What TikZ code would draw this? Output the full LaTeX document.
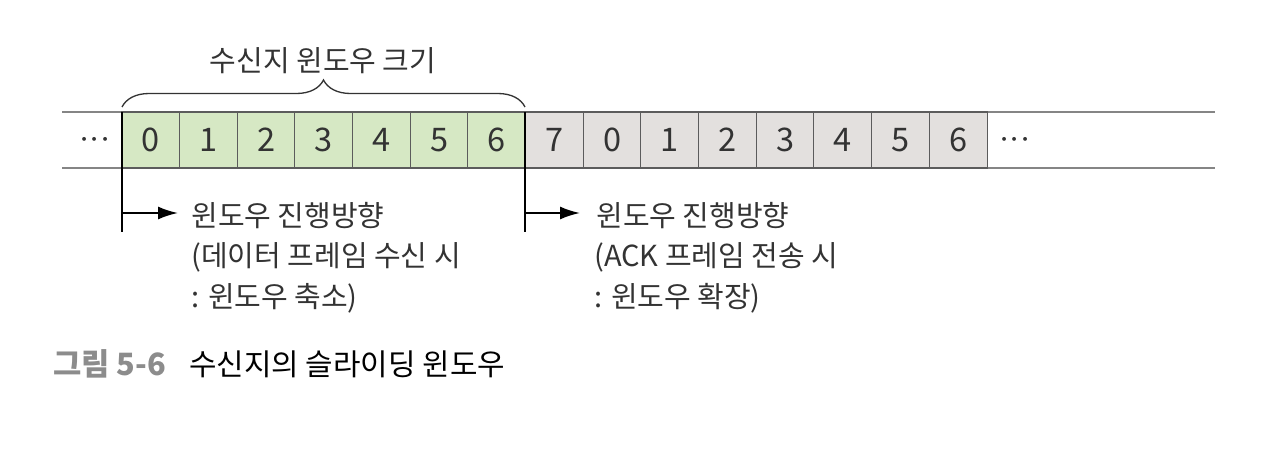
\documentclass[tikz,border=0pt]{standalone}
\usepackage{fontspec}
\usepackage{tikz}
\usetikzlibrary{arrows.meta}
\usetikzlibrary{decorations.pathreplacing}
\pgfdeclarelayer{edgelayer}
\pgfdeclarelayer{nodelayer}
\pgfsetlayers{edgelayer,nodelayer,main}
\newfontfamily\krfont{Noto Sans CJK KR}
\definecolor{cellgreen}{rgb}{0.84,0.91,0.77}
\definecolor{cellgray}{rgb}{0.89,0.88,0.87}
\definecolor{inkgray}{rgb}{0.2,0.2,0.2}
\definecolor{railgray}{rgb}{0.52,0.52,0.52}
\definecolor{capgray}{rgb}{0.55,0.55,0.55}
\tikzstyle{none}=[inner sep=0pt]
\tikzstyle{cell}=[draw=inkgray!80, line width=0.6pt, minimum width=1.154cm, minimum height=1.12cm, inner sep=0pt, text=inkgray, font=\krfont\fontsize{18.5}{18.5}\selectfont]
\tikzstyle{green cell}=[cell, fill=cellgreen]
\tikzstyle{gray cell}=[cell, fill=cellgray]
\tikzstyle{note}=[inner sep=0pt, anchor=west, text=inkgray, font=\krfont\fontsize{16.5}{16.5}\selectfont]
\tikzstyle{dots}=[inner sep=0pt, text=inkgray, font=\fontsize{22}{22}\selectfont]
\tikzstyle{rail}=[color=railgray, line width=1.7pt]
\tikzstyle{marker}=[color=black, line width=1.1pt]

\begin{document}
\begin{tikzpicture}[x=0.02cm, y=-0.02cm, >={Latex[length=0.4cm,width=0.26cm]}]
	\useasboundingbox (0,0) rectangle (1280,466);
	\begin{pgfonlayer}{nodelayer}
		% window cells
		\node [style=green cell] (0) at (150.8, 140) {0};
		\node [style=green cell] (1) at (208.5, 140) {1};
		\node [style=green cell] (2) at (266.2, 140) {2};
		\node [style=green cell] (3) at (323.8, 140) {3};
		\node [style=green cell] (4) at (381.5, 140) {4};
		\node [style=green cell] (5) at (439.2, 140) {5};
		\node [style=green cell] (6) at (496.8, 140) {6};
		\node [style=gray cell] (7) at (554.5, 140) {7};
		\node [style=gray cell] (8) at (612.2, 140) {0};
		\node [style=gray cell] (9) at (669.8, 140) {1};
		\node [style=gray cell] (10) at (727.5, 140) {2};
		\node [style=gray cell] (11) at (785.2, 140) {3};
		\node [style=gray cell] (12) at (842.8, 140) {4};
		\node [style=gray cell] (13) at (900.5, 140) {5};
		\node [style=gray cell] (14) at (958.2, 140) {6};
		\node [style=dots] (15) at (95, 140) {${\cdot}{\cdot}{\cdot}$};
		\node [style=dots] (16) at (1015, 140) {${\cdot}{\cdot}{\cdot}$};
		% rails
		\node [style=none] (20) at (62, 112) {};
		\node [style=none] (21) at (1215, 112) {};
		\node [style=none] (22) at (62, 168) {};
		\node [style=none] (23) at (1215, 168) {};
		% brace
		\node [style=none] (30) at (122, 107) {};
		\node [style=none] (31) at (525, 107) {};
		\node [style=note, anchor=center] (32) at (323, 61) {수신지 윈도우 크기};
		% markers and arrows
		\node [style=none] (40) at (122, 112) {};
		\node [style=none] (41) at (122, 232) {};
		\node [style=none] (42) at (122, 213) {};
		\node [style=none] (43) at (178, 213) {};
		\node [style=none] (44) at (525, 112) {};
		\node [style=none] (45) at (525, 232) {};
		\node [style=none] (46) at (525, 213) {};
		\node [style=none] (47) at (580, 213) {};
		% notes
		\node [style=note] (50) at (191, 216) {윈도우 진행방향};
		\node [style=note] (51) at (191, 257) {(데이터 프레임 수신 시};
		\node [style=note] (52) at (191, 298) {: 윈도우 축소)};
		\node [style=note] (53) at (596, 216) {윈도우 진행방향};
		\node [style=note] (54) at (594, 257) {(ACK 프레임 전송 시};
		\node [style=note] (55) at (594, 298) {: 윈도우 확장)};
		% caption
		\node [style=note, text=capgray, font=\krfont\bfseries\fontsize{17.5}{17.5}\selectfont] (60) at (53, 364) {그림 5-6};
		\node [style=note, text=black, font=\krfont\fontsize{17}{17}\selectfont] (61) at (189, 364) {수신지의 슬라이딩 윈도우};
	\end{pgfonlayer}
	\begin{pgfonlayer}{edgelayer}
		\draw [style=rail] (20.center) to (21.center);
		\draw [style=rail] (22.center) to (23.center);
		\draw [color=inkgray, line width=0.75pt, decorate, decoration={brace, amplitude=0.54cm}] (30.center) to (31.center);
	\end{pgfonlayer}
	\draw [style=marker] (40.center) to (41.center);
	\draw [style=marker] (44.center) to (45.center);
	\draw [style=marker, ->] (42.center) to (43.center);
	\draw [style=marker, ->] (46.center) to (47.center);
\end{tikzpicture}
\end{document}
